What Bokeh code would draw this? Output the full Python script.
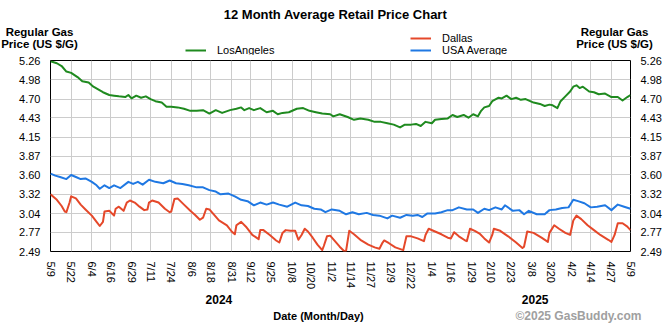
import math
from bokeh.plotting import figure
from bokeh.layouts import column
from bokeh.models import (Range1d, LinearAxis, FixedTicker, Label, Legend, LegendItem)
from bokeh.embed import file_html
from bokeh.resources import INLINE

# ---- data (x = days since 2024-05-09) ----
tick_days = [0, 13, 26, 38, 51, 63, 76, 89, 101, 114, 126, 139, 152, 164, 177, 189,
             202, 214, 227, 240, 252, 265, 277, 290, 303, 315, 328, 340, 353, 365]
tick_labels = ["5/9", "5/22", "6/4", "6/16", "6/29", "7/11", "7/24", "8/6", "8/18", "8/31",
               "9/12", "9/25", "10/8", "10/20", "11/2", "11/14", "11/27", "12/9", "12/22",
               "1/4", "1/16", "1/29", "2/10", "2/23", "3/8", "3/20", "4/2", "4/14", "4/27", "5/9"]
price_ticks = [2.49, 2.77, 3.04, 3.32, 3.60, 3.87, 4.15, 4.43, 4.70, 4.98, 5.26]

la_days = [0, 4, 7, 10, 13, 17, 20, 24, 27, 30, 33, 37, 40, 43, 47, 49, 51, 54, 57, 60, 63, 66,
           70, 73, 76, 80, 84, 88, 92, 96, 100, 104, 108, 113, 117, 120, 122, 125, 128, 132, 136,
           140, 143, 146, 150, 155, 159, 163, 167, 171, 176, 178, 182, 187, 191, 195, 200, 204,
           208, 212, 216, 220, 223, 227, 230, 233, 236, 240, 242, 246, 250, 253, 256, 260, 263,
           266, 269, 271, 273, 276, 278, 282, 284, 287, 290, 293, 296, 299, 304, 308, 311, 314,
           316, 319, 321, 324, 327, 329, 331, 333, 335, 339, 342, 345, 349, 353, 357, 360, 363, 365]
la_price = [5.25, 5.22, 5.18, 5.10, 5.08, 5.02, 4.96, 4.94, 4.88, 4.84, 4.80, 4.76, 4.75, 4.74,
            4.73, 4.76, 4.71, 4.75, 4.72, 4.74, 4.70, 4.67, 4.65, 4.59, 4.59, 4.58, 4.56, 4.53,
            4.53, 4.54, 4.49, 4.54, 4.50, 4.54, 4.56, 4.58, 4.54, 4.57, 4.54, 4.57, 4.51, 4.53,
            4.48, 4.50, 4.51, 4.56, 4.57, 4.53, 4.51, 4.49, 4.48, 4.45, 4.48, 4.44, 4.40, 4.42,
            4.40, 4.37, 4.37, 4.35, 4.33, 4.29, 4.33, 4.33, 4.34, 4.31, 4.37, 4.35, 4.40, 4.41,
            4.42, 4.47, 4.44, 4.47, 4.43, 4.48, 4.45, 4.53, 4.58, 4.60, 4.67, 4.72, 4.71, 4.75,
            4.70, 4.72, 4.69, 4.70, 4.65, 4.63, 4.60, 4.62, 4.61, 4.57, 4.67, 4.74, 4.81, 4.88,
            4.90, 4.86, 4.88, 4.81, 4.80, 4.77, 4.78, 4.73, 4.73, 4.68, 4.73, 4.76]

usa_days = [0, 3, 6, 10, 13, 16, 19, 22, 26, 29, 31, 34, 37, 40, 44, 49, 52, 55, 58, 62, 66, 71,
            75, 79, 83, 87, 92, 96, 100, 104, 107, 112, 116, 120, 124, 128, 132, 136, 140, 144,
            149, 154, 158, 162, 166, 170, 173, 177, 182, 186, 190, 194, 199, 203, 207, 212, 215,
            220, 224, 228, 231, 234, 237, 242, 246, 250, 253, 257, 262, 266, 269, 273, 276, 280,
            284, 286, 291, 295, 298, 301, 306, 311, 314, 318, 322, 326, 329, 332, 336, 340, 344,
            349, 353, 357, 361, 365]
usa_price = [3.62, 3.59, 3.57, 3.54, 3.60, 3.57, 3.54, 3.55, 3.50, 3.45, 3.40, 3.45, 3.41, 3.45,
             3.41, 3.50, 3.47, 3.50, 3.46, 3.53, 3.50, 3.48, 3.52, 3.48, 3.47, 3.45, 3.42, 3.42,
             3.38, 3.36, 3.32, 3.33, 3.29, 3.24, 3.22, 3.16, 3.20, 3.17, 3.20, 3.17, 3.14, 3.20,
             3.16, 3.15, 3.11, 3.10, 3.06, 3.10, 3.08, 3.03, 3.06, 3.03, 3.05, 3.02, 3.01, 2.97,
             3.01, 2.98, 3.02, 3.01, 3.02, 2.99, 3.04, 3.04, 3.06, 3.09, 3.09, 3.13, 3.10, 3.10,
             3.05, 3.11, 3.09, 3.13, 3.10, 3.16, 3.08, 3.09, 3.03, 3.08, 3.03, 3.03, 3.09, 3.10,
             3.12, 3.13, 3.24, 3.22, 3.19, 3.13, 3.14, 3.16, 3.09, 3.17, 3.14, 3.11]

dal_days = [0, 4, 7, 9, 10, 12, 13, 16, 19, 22, 26, 29, 31, 33, 34, 37, 40, 41, 43, 46, 48, 50,
            53, 56, 59, 61, 62, 64, 68, 72, 75, 76, 78, 80, 84, 88, 91, 94, 96, 98, 100, 103, 106,
            111, 114, 116, 117, 120, 123, 127, 131, 132, 134, 138, 142, 144, 146, 148, 151, 154,
            156, 158, 160, 162, 165, 168, 171, 172, 174, 176, 179, 182, 185, 186, 188, 191, 195,
            200, 204, 207, 209, 210, 213, 217, 222, 224, 227, 231, 235, 236, 238, 242, 246, 250,
            252, 254, 257, 261, 262, 264, 267, 270, 273, 276, 278, 279, 283, 288, 293, 297, 298,
            300, 304, 309, 313, 314, 317, 320, 324, 327, 329, 331, 334, 338, 342, 346, 351, 353,
            355, 357, 360, 363, 365]
dal_price = [3.32, 3.24, 3.15, 3.07, 3.06, 3.20, 3.29, 3.26, 3.17, 3.10, 3.01, 2.92, 2.86, 2.92,
             3.07, 3.08, 3.01, 3.11, 3.14, 3.08, 3.20, 3.23, 3.20, 3.14, 3.09, 3.10, 3.20, 3.23,
             3.20, 3.11, 3.06, 3.07, 3.25, 3.26, 3.17, 3.08, 3.02, 2.95, 2.98, 3.11, 3.10, 3.02,
             2.94, 2.87, 2.78, 2.74, 2.87, 2.92, 2.85, 2.73, 2.67, 2.80, 2.80, 2.73, 2.65, 2.62,
             2.76, 2.80, 2.79, 2.79, 2.66, 2.73, 2.82, 2.78, 2.69, 2.59, 2.51, 2.57, 2.71, 2.72,
             2.64, 2.56, 2.49, 2.50, 2.79, 2.74, 2.66, 2.59, 2.55, 2.53, 2.62, 2.65, 2.61, 2.55,
             2.51, 2.71, 2.71, 2.68, 2.64, 2.73, 2.82, 2.78, 2.74, 2.69, 2.68, 2.77, 2.71, 2.65,
             2.64, 2.82, 2.79, 2.75, 2.68, 2.62, 2.73, 2.82, 2.79, 2.71, 2.62, 2.54, 2.56, 2.78,
             2.76, 2.69, 2.63, 2.76, 2.87, 2.82, 2.76, 2.73, 2.94, 3.01, 2.96, 2.87, 2.80, 2.73,
             2.66, 2.63, 2.73, 2.90, 2.90, 2.85, 2.80]

series_names = ["LosAngeles", "Dallas", "USA Average"]
year_labels = ["2024", "2025"]
year_days = [106, 305]

FONT = "Liberation Sans"
GREEN = "#1f8a1f"
RED = "#e5482a"
BLUE = "#1f78e3"
W = 670
HEAD_H, MAIN_TOP, FRAME_H, MAIN_BOTTOM, FOOT_H = 55, 5, 200, 32, 33
LEFT, RIGHT = 50, 40
NAN = float("nan")


def text_label(fig, x, y, text, size="11px", bold=True, align="center", color="black",
               x_units="screen"):
    fig.add_layout(Label(x=x, y=y, x_units=x_units, y_units="screen", text=text,
                         text_font=FONT, text_font_size=size,
                         text_font_style="bold" if bold else "normal",
                         text_align=align, text_baseline="middle", text_color=color))


def bare_figure(height, x_range):
    f = figure(width=W, height=height, output_backend="svg", toolbar_location=None,
               x_range=x_range, y_range=Range1d(0, height),
               x_axis_type=None, y_axis_type=None,
               min_border=0, min_border_left=0, min_border_right=0,
               min_border_top=0, min_border_bottom=0)
    f.frame_align = False
    f.outline_line_color = None
    f.background_fill_color = "white"
    f.border_fill_color = "white"
    f.xgrid.visible = False
    f.ygrid.visible = False
    return f

# ---------------- header: title, axis titles, legend ----------------
head = bare_figure(HEAD_H, Range1d(0, W))
text_label(head, 335, HEAD_H - 14, "12 Month Average Retail Price Chart", size="13px")
text_label(head, 39, HEAD_H - 31, "Regular Gas", size="11.5px")
text_label(head, 39, HEAD_H - 43, "Price (US $/G)", size="11.5px")
text_label(head, 614, HEAD_H - 31, "Regular Gas", size="11.5px")
text_label(head, 614, HEAD_H - 43, "Price (US $/G)", size="11.5px")

# legend-only renderers (no visible data points)
leg_r = [head.line(x=[NAN], y=[NAN], line_color=c, line_width=2) for c in (GREEN, RED, BLUE)]


def add_legend(fig, items, loc):
    fig.add_layout(Legend(items=items, location=loc, orientation="vertical",
                          background_fill_alpha=0, border_line_alpha=0,
                          padding=0, spacing=0, margin=0,
                          glyph_width=21, glyph_height=12, label_height=12,
                          label_standoff=11, label_text_font=FONT, label_text_font_size="11px",
                          label_text_color="black", label_text_baseline="middle"), "center")

add_legend(head, [LegendItem(label=series_names[0], renderers=[leg_r[0]])], (185, HEAD_H - 56))
add_legend(head, [LegendItem(label=series_names[1], renderers=[leg_r[1]]),
                  LegendItem(label=series_names[2], renderers=[leg_r[2]])], (410, HEAD_H - 56))

# ---------------- main chart ----------------
p = figure(width=W, height=MAIN_TOP + FRAME_H + MAIN_BOTTOM, output_backend="svg",
           toolbar_location=None,
           x_range=Range1d(tick_days[0], tick_days[-1]),
           y_range=Range1d(price_ticks[0], price_ticks[-1]),
           min_border_left=LEFT, min_border_right=RIGHT,
           min_border_top=MAIN_TOP, min_border_bottom=MAIN_BOTTOM)
p.frame_align = False
p.background_fill_color = "white"
p.border_fill_color = "white"
p.outline_line_color = "black"
p.outline_line_width = 1
p.outline_line_alpha = 1

p.add_layout(LinearAxis(), "right")
for ax in p.yaxis:
    ax.ticker = FixedTicker(ticks=price_ticks)
    ax.major_label_overrides = {t: f"{t:.2f}" for t in price_ticks}
    ax.axis_line_color = None
    ax.major_tick_line_color = None
    ax.minor_tick_line_color = None
    ax.major_label_text_font = FONT
    ax.major_label_text_font_size = "11px"
    ax.major_label_text_color = "black"
    ax.major_label_standoff = 4

xa = p.xaxis[0]
xa.ticker = FixedTicker(ticks=tick_days)
xa.major_label_overrides = {d: l for d, l in zip(tick_days, tick_labels)}
xa.major_label_orientation = -math.pi / 2
xa.axis_line_color = None
xa.major_tick_line_color = None
xa.minor_tick_line_color = None
xa.major_label_text_font = FONT
xa.major_label_text_font_size = "11px"
xa.major_label_text_color = "black"
xa.major_label_standoff = 4

p.xgrid.grid_line_color = "#cccccc"
p.ygrid.grid_line_color = "#cccccc"

p.line(la_days, la_price, line_color=GREEN, line_width=2, line_join="round")
p.line(dal_days, dal_price, line_color=RED, line_width=2, line_join="round")
p.line(usa_days, usa_price, line_color=BLUE, line_width=2, line_join="round")

# ---------------- footer: years, axis title, credit ----------------
span = tick_days[-1] - tick_days[0]
days_per_px = span / (W - LEFT - RIGHT)
foot = bare_figure(FOOT_H, Range1d(tick_days[0] - LEFT * days_per_px,
                                   tick_days[-1] + RIGHT * days_per_px))
for yl, yd in zip(year_labels, year_days):
    text_label(foot, yd, FOOT_H - 7, yl, size="12px", x_units="data")
text_label(foot, 318, FOOT_H - 23, "Date (Month/Day)", size="11px")
text_label(foot, 641, FOOT_H - 23, "©2025 GasBuddy.com", size="12px", align="right",
           color="#a0a0a0")

layout = column(head, p, foot, spacing=0)
open("out.html", "w").write(file_html(layout, INLINE))
